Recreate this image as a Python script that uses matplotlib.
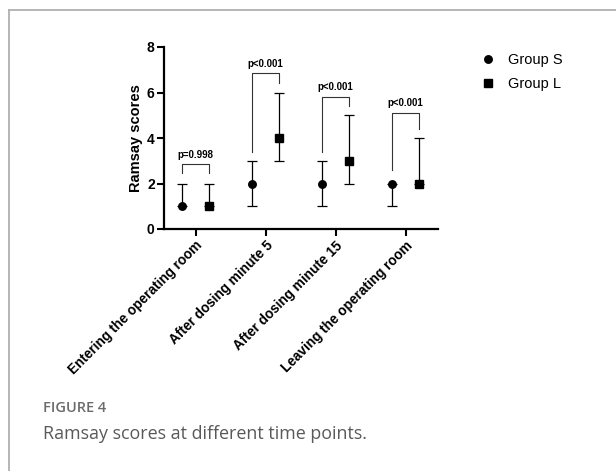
import matplotlib
matplotlib.use("Agg")
import matplotlib.pyplot as plt
from matplotlib.lines import Line2D

# Time points and Ramsay scores: median with range (low / high) per group
categories = ["Entering the operating room", "After dosing minute 5",
              "After dosing minute 15", "Leaving the operating room"]
s_median = [1, 2, 2, 2]
s_low = [1, 1, 1, 1]
s_high = [2, 3, 3, 2]
l_median = [1, 4, 3, 2]
l_low = [1, 3, 2, 2]
l_high = [2, 6, 5, 4]
p_labels = ["p=0.998", "p<0.001", "p<0.001", "p<0.001"]
# bracket geometry in data units: top, left-leg bottom, right-leg bottom
bracket_top = [2.85, 6.85, 5.82, 5.1]
bracket_left = [2.45, 3.37, 3.37, 2.6]
bracket_right = [2.45, 6.4, 5.4, 4.4]

plt.rcParams["font.family"] = ["Liberation Sans", "DejaVu Sans"]

fig = plt.figure(figsize=(6.16, 4.71), dpi=100)

# outer frame lines (top and left)
fig.add_artist(Line2D([9 / 616, 1], [1 - 10 / 471, 1 - 10 / 471],
                      transform=fig.transFigure, color="#b0b0b0", lw=1.3))
fig.add_artist(Line2D([9 / 616, 9 / 616], [0, 1 - 10 / 471],
                      transform=fig.transFigure, color="#b0b0b0", lw=1.3))

ax = fig.add_axes([164 / 616, 242 / 471, 274 / 616, 182 / 471])
x = list(range(len(categories)))
off = 0.19
xs = [v - off for v in x]
xl = [v + off for v in x]

ax.errorbar(xs, s_median,
            yerr=[[m - lo for m, lo in zip(s_median, s_low)],
                  [hi - m for m, hi in zip(s_median, s_high)]],
            fmt="o", color="black", ms=5.4, elinewidth=0.9, capsize=3.8,
            capthick=0.9, clip_on=False, zorder=3)
ax.errorbar(xl, l_median,
            yerr=[[m - lo for m, lo in zip(l_median, l_low)],
                  [hi - m for m, hi in zip(l_median, l_high)]],
            fmt="s", color="black", ms=5.6, elinewidth=0.9, capsize=3.8,
            capthick=0.9, clip_on=False, zorder=3)

for i in x:
    ax.plot([xs[i], xs[i], xl[i], xl[i]],
            [bracket_left[i], bracket_top[i], bracket_top[i], bracket_right[i]],
            color="#333333", lw=0.8, clip_on=False)
    ax.text(x[i], bracket_top[i] + 0.2, p_labels[i], ha="center", va="bottom",
            fontsize=7, fontweight="bold")

ax.set_xlim(-0.45, 3.46)
ax.set_ylim(0, 8)
ax.set_yticks([0, 2, 4, 6, 8])
ax.set_xticks(x)
ax.set_xticklabels(categories, rotation=45, ha="right", rotation_mode="anchor",
                   fontsize=9.8, fontweight="bold")
for lab in ax.get_yticklabels():
    lab.set_fontweight("bold")
    lab.set_fontsize(10)
ax.tick_params(axis="both", width=1.5, length=4.7, pad=2)
ax.spines["top"].set_visible(False)
ax.spines["right"].set_visible(False)
ax.spines["left"].set_linewidth(1.6)
ax.spines["bottom"].set_linewidth(1.6)
ax.set_ylabel("Ramsay scores", fontsize=10.5, fontweight="bold", labelpad=3)

# legend
handles = [Line2D([], [], marker="o", ls="none", color="black", ms=5.4),
           Line2D([], [], marker="s", ls="none", color="black", ms=5.6)]
fig.legend(handles, ["Group S", "Group L"], loc="upper left",
           bbox_to_anchor=(466 / 616, 1 - 40 / 471), frameon=False,
           fontsize=10.5, handletextpad=0.8, labelspacing=0.68, handlelength=1.2)

# caption
fig.text(43 / 616, 1 - 408 / 471, "FIGURE 4", family="Open Sans",
         fontweight="semibold", fontsize=10.5, color="#6b6b6b", va="center")
fig.text(43 / 616, 1 - 434 / 471, "Ramsay scores at different time points.",
         family="Open Sans", fontsize=12.9, color="#595959", va="center")

fig.savefig("out.png", dpi=100)
